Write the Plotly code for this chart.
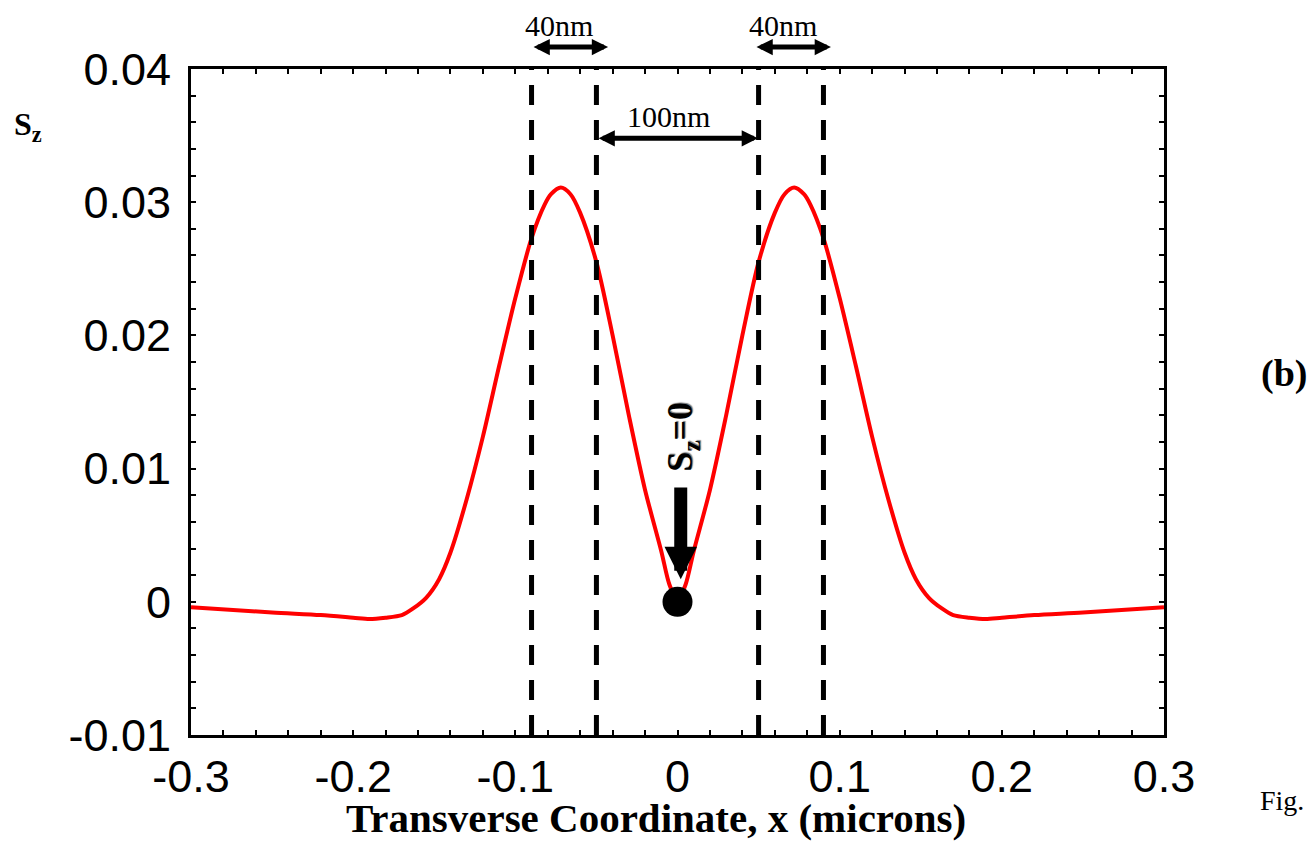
import plotly.graph_objects as go

# ---- data ----
x_vals = [-0.3, -0.25, -0.22, -0.2, -0.19, -0.18, -0.17, -0.163, -0.155, -0.147, -0.14, -0.13, -0.12, -0.11, -0.10,
          -0.09, -0.082, -0.078, -0.072, -0.066, -0.06, -0.05, -0.04, -0.03, -0.02, -0.01, -0.005,
          0.0,
          0.005, 0.01, 0.02, 0.03, 0.04, 0.05, 0.06, 0.066, 0.072, 0.078, 0.082, 0.09,
          0.10, 0.11, 0.12, 0.13, 0.14, 0.147, 0.155, 0.163, 0.17, 0.18, 0.19, 0.2, 0.22, 0.25, 0.3]
sz_vals = [-0.0004, -0.0008, -0.0010, -0.0012, -0.0013, -0.0012, -0.0010, -0.0005, 0.0003, 0.0017, 0.0037, 0.0077, 0.0124, 0.0177, 0.0228,
           0.0273, 0.0298, 0.0306, 0.0311, 0.0306, 0.0292, 0.0255, 0.0200, 0.0140, 0.0084, 0.0038, 0.0013,
           0.0001,
           0.0013, 0.0038, 0.0084, 0.0140, 0.0200, 0.0255, 0.0292, 0.0306, 0.0311, 0.0306, 0.0298, 0.0273,
           0.0228, 0.0177, 0.0124, 0.0077, 0.0037, 0.0017, 0.0003, -0.0005, -0.0010, -0.0012, -0.0013, -0.0012, -0.0010, -0.0008, -0.0004]

dashed_x = [-0.09, -0.05, 0.05, 0.09]

x_ticks = [-0.3, -0.2, -0.1, 0, 0.1, 0.2, 0.3]
x_ticktext = ["-0.3", "-0.2", "-0.1", "0", "0.1", "0.2", "0.3"]
y_ticks = [-0.01, 0, 0.01, 0.02, 0.03, 0.04]
y_ticktext = ["-0.01", "0", "0.01", "0.02", "0.03", "0.04"]

null_point_x = [0.0]
null_point_y = [0.0]

# double arrows: (x_start, x_end)
arrow_40_left = (-0.0897, -0.0428)
arrow_40_right = (0.0478, 0.0946)
arrow_100 = (-0.0496, 0.0496)

SERIF = "Liberation Serif, Times New Roman, serif"
SANS = "Liberation Sans, Arial, Helvetica, sans-serif"

fig = go.Figure()

fig.add_trace(go.Scatter(
    x=x_vals, y=sz_vals, mode="lines",
    line=dict(color="#ff0000", width=4, shape="spline", smoothing=0.8),
    showlegend=False, hoverinfo="skip"))

fig.add_trace(go.Scatter(
    x=null_point_x, y=null_point_y, mode="markers",
    marker=dict(color="black", size=30, line=dict(width=0)),
    showlegend=False, cliponaxis=False, hoverinfo="skip"))

for xv in dashed_x:
    fig.add_shape(type="line", xref="x", yref="paper", x0=xv, x1=xv, y0=0, y1=1,
                  line=dict(color="black", width=5, dash="20px,15px"), layer="above")

def dbl_arrow(x0, x1, y, yref):
    kw = dict(x=x1, ax=x0, axref="x", text="", showarrow=True,
              arrowhead=2, arrowsize=0.65, arrowwidth=5, arrowcolor="black",
              arrowside="end+start", startarrowhead=2, startarrowsize=0.65,
              standoff=0, startstandoff=0, xref="x")
    if yref == "paper":
        kw.update(y=y, yref="paper", ay=0, ayref="pixel")
    else:
        kw.update(y=y, yref="y", ay=y, ayref="y")
    fig.add_annotation(**kw)

dbl_arrow(arrow_40_left[0], arrow_40_left[1], 1.033, "paper")
dbl_arrow(arrow_40_right[0], arrow_40_right[1], 1.033, "paper")
dbl_arrow(arrow_100[0], arrow_100[1], 0.0348, "y")

def label(x, y, text, size, xref="paper", yref="paper", family=SERIF, **extra):
    fig.add_annotation(x=x, y=y, xref=xref, yref=yref, text=text, showarrow=False,
                       xanchor="center", yanchor="middle",
                       font=dict(family=family, size=size, color="black", **extra))

label(-0.0731, 1.066, "40nm", 30, xref="x")
label(0.065, 1.066, "40nm", 30, xref="x")
label(-0.0055, 0.0364, "100nm", 30, xref="x", yref="y")

# big arrow pointing to the null point
fig.add_annotation(x=0.002, y=0.0017, ax=0.002, ay=0.0087, xref="x", yref="y", axref="x", ayref="y",
                   text="", showarrow=True, arrowhead=2, arrowsize=0.5, arrowwidth=13,
                   arrowcolor="black", standoff=0)
fig.add_annotation(x=0.0034, y=0.0124, xref="x", yref="y", text="<b>S<sub>z</sub>=0</b>",
                   showarrow=False, textangle=-90, xanchor="center", yanchor="middle",
                   font=dict(family=SERIF, size=36, color="black", shadow="1px 1px 1px #777"))

# y label, title, panel label, "Fig."
label(-0.168, 0.914, "<b>S<sub>z</sub></b>", 32)
label(0.478, -0.125, "<b>Transverse Coordinate, x (microns)</b>", 41)
label(1.123, 0.543, "<b>(b)</b>", 38)
label(1.121, -0.098, "Fig.", 28)

axis_common = dict(showgrid=False, zeroline=False, showline=True, linecolor="black", linewidth=3,
                   mirror="allticks", ticks="inside", ticklen=5, tickwidth=1.5, tickcolor="black",
                   tickmode="array", tickfont=dict(family=SANS, size=45, color="black"))

fig.update_xaxes(range=[-0.3, 0.3], tickvals=x_ticks, ticktext=x_ticktext, ticklabelstandoff=0,
                 minor=dict(tickmode="linear", tick0=0, dtick=0.02, ticks="inside", ticklen=5,
                            tickwidth=1.5, tickcolor="black"),
                 **axis_common)
fig.update_yaxes(range=[-0.01, 0.04], tickvals=y_ticks, ticktext=y_ticktext, ticklabelstandoff=8,
                 minor=dict(tickmode="linear", tick0=0, dtick=0.002, ticks="inside", ticklen=5,
                            tickwidth=1.5, tickcolor="black"),
                 **axis_common)

fig.update_layout(width=1310, height=841, margin=dict(l=191, r=146, t=69, b=106),
                  paper_bgcolor="white", plot_bgcolor="white", showlegend=False)

fig.write_html("out.html")
